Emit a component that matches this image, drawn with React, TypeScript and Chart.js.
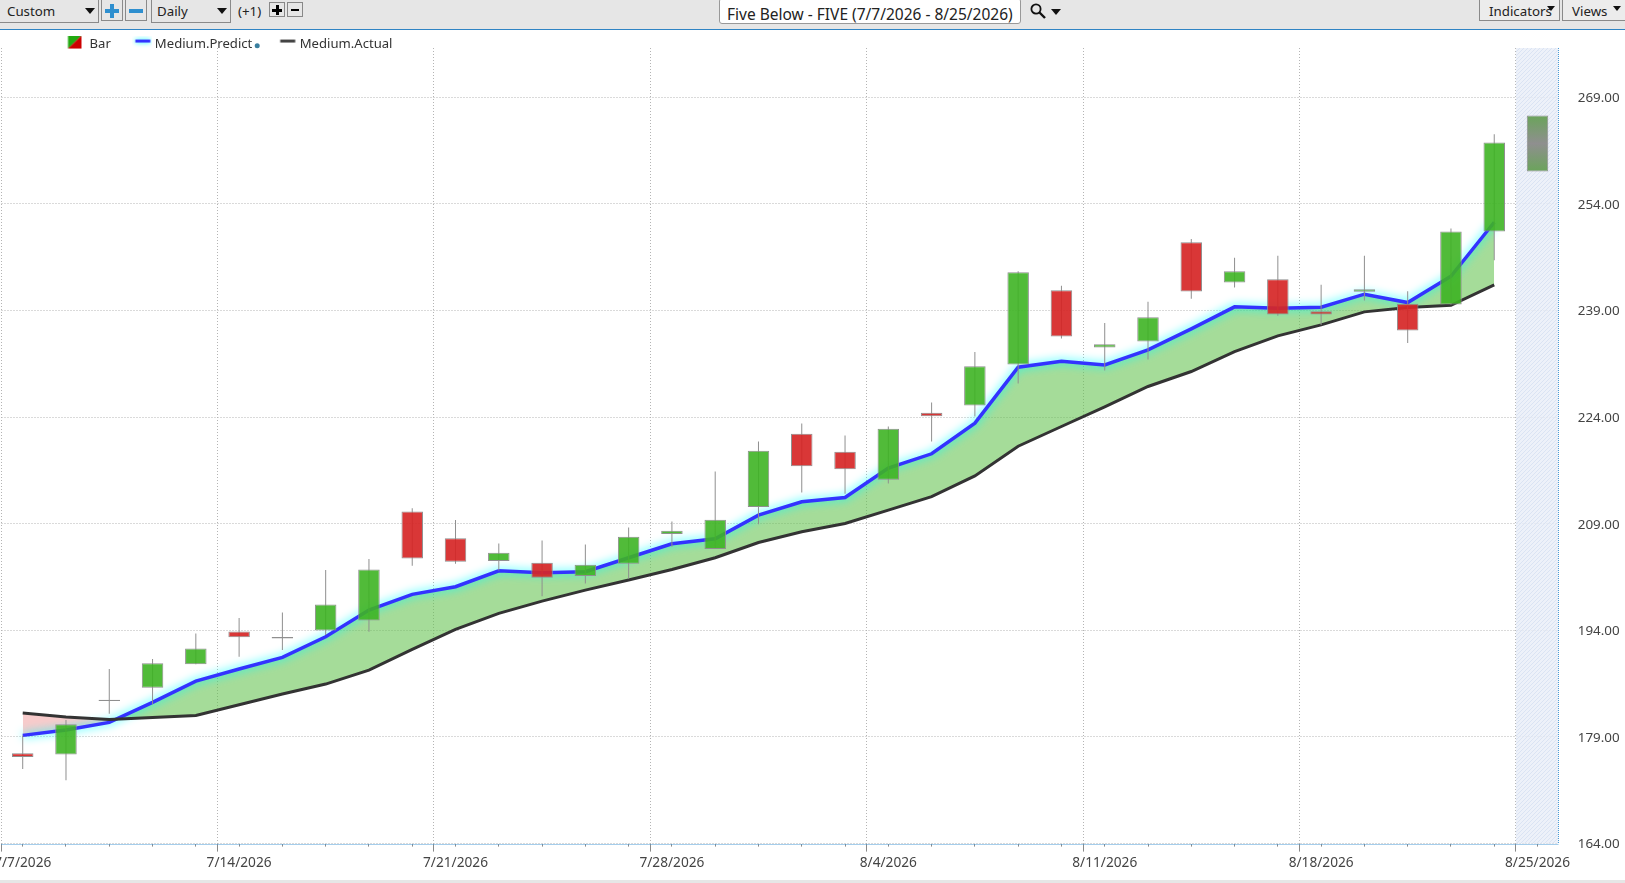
import React, { useEffect, useRef } from "react";
import { Chart, registerables } from "chart.js";

Chart.register(...registerables);

const dates = [
  "7/7/2026","7/8/2026","7/9/2026","7/10/2026","7/13/2026","7/14/2026","7/15/2026","7/16/2026","7/17/2026",
  "7/20/2026","7/21/2026","7/22/2026","7/23/2026","7/24/2026","7/27/2026","7/28/2026","7/29/2026","7/30/2026",
  "7/31/2026","8/3/2026","8/4/2026","8/5/2026","8/6/2026","8/7/2026","8/10/2026","8/11/2026","8/12/2026",
  "8/13/2026","8/14/2026","8/17/2026","8/18/2026","8/19/2026","8/20/2026","8/21/2026","8/24/2026","8/25/2026",
];
const opens = [176.7,176.55,184.25,185.93,189.22,193.86,193.07,194,195.41,210.74,206.95,203.75,203.51,201.64,203.37,207.55,205.44,211.35,221.66,219.13,215.19,224.62,225.64,231.41,241.87,233.8,234.65,248.62,242.95,243.42,238.92,241.64,239.98,239.84,250.12,258.56];
const closes = [176.2,180.8,184.05,189.36,191.47,193.02,192.87,197.66,202.58,204.13,203.66,204.92,201.4,203.23,207.17,208.02,209.56,219.27,217.11,216.69,222.37,224.15,231.18,244.4,235.35,234.27,238.07,241.68,244.54,238.45,238.45,242.01,236.19,250.12,262.64,266.44];
const highs = [179.2,181.4,188.56,189.97,193.58,195.74,196.53,202.49,204.04,211.17,209.53,206.23,206.65,206.09,208.48,209.33,216.36,220.59,223.12,221.43,222.7,226.07,233.19,244.54,242.48,237.27,240.23,249.09,246.42,246.7,242.62,246.7,241.72,250.54,263.81];
const lows = [174.5,172.9,182.27,183.63,189.22,190.3,191.23,193.34,193.81,203.1,203.38,202.43,198.82,200.6,201.26,205.76,205.44,208.95,213.41,213.22,214.68,220.59,224.09,228.74,235.07,230.57,232.11,240.65,242.25,238.26,236.99,240.42,234.45,239.84,246.08];
const predicted = [179.23,179.98,181.05,183.87,186.87,188.56,190.2,193.11,196.86,199.07,200.14,202.39,202.1,202.25,204.22,206.19,206.89,210.22,212.1,212.71,216.83,218.85,223.16,231.04,231.88,231.36,233.47,236.43,239.53,239.34,239.48,241.31,240.13,243.83,251.43];
const actual = [182.37,181.8,181.48,181.76,182.04,183.54,185.04,186.45,188.42,191.33,194.14,196.39,198.12,199.67,201.1,202.57,204.22,206.37,207.87,209.05,210.92,212.82,215.74,219.92,222.69,225.45,228.32,230.43,233.24,235.44,236.99,238.82,239.42,239.75,242.61];
const yTickValues = [164, 179, 194, 209, 224, 239, 254, 269];
const weekBoundaries = [-0.49, 4.5, 9.5, 14.5, 19.5, 24.5, 29.5, 34.5];
const legendNames = ["Bar", "Medium.Predict ", "Medium.Actual"];

const FONT = '"Noto Sans", "Open Sans", sans-serif';
const X_MIN = -0.49;
const X_MAX = 35.48;
const Y_MIN = 164;
const Y_MAX = 275.95;

function makeIcon(draw: (c: CanvasRenderingContext2D) => void) {
  const cv = document.createElement("canvas");
  cv.width = 20;
  cv.height = 18;
  draw(cv.getContext("2d") as CanvasRenderingContext2D);
  return cv;
}

const extras = {
  id: "extras",
  beforeLayout(chart: any) {
    const lg = chart.legend;
    if (lg && !lg.__wrapped) {
      const fit = lg.fit;
      lg.fit = function () {
        fit.call(this);
        this.height = 0;
      };
      lg.__wrapped = true;
    }
  },
  afterLayout(chart: any) {
    const lg = chart.legend;
    lg.left = 45.5;
    lg.right = 1200;
    lg.top = 13.5;
    lg.bottom = 70;
    lg.width = lg.right - lg.left;
    lg.height = lg.bottom - lg.top;
  },
  beforeDatasetsDraw(chart: any) {
    const { ctx, chartArea, scales } = chart;
    const left = scales.x.getPixelForValue(34.5);
    const p = document.createElement("canvas");
    p.width = 4;
    p.height = 4;
    const c = p.getContext("2d") as CanvasRenderingContext2D;
    c.fillStyle = "rgba(232,238,247,0.8)";
    c.fillRect(0, 0, 4, 4);
    c.strokeStyle = "rgba(214,224,241,0.8)";
    c.lineWidth = 1;
    c.beginPath();
    c.moveTo(0, 4);
    c.lineTo(4, 0);
    c.stroke();
    ctx.save();
    ctx.fillStyle = ctx.createPattern(p, "repeat");
    ctx.fillRect(left, chartArea.top, chartArea.right - left, chartArea.bottom - chartArea.top);
    ctx.restore();
  },
  beforeDatasetDraw(chart: any, args: any) {
    if (args.meta.label === "Medium.Predict") {
      chart.ctx.save();
      chart.ctx.shadowColor = "#00ffff";
      chart.ctx.shadowBlur = 10;
    }
  },
  afterDatasetDraw(chart: any, args: any) {
    if (args.meta.label === "Medium.Predict") chart.ctx.restore();
  },
  afterDraw(chart: any) {
    const { ctx, chartArea, legend } = chart;
    ctx.save();
    ctx.strokeStyle = "#4a9bd6";
    ctx.lineWidth = 1;
    ctx.setLineDash([1, 1]);
    ctx.beginPath();
    ctx.moveTo(chartArea.left, Math.round(chartArea.bottom) + 0.5);
    ctx.lineTo(chartArea.right, Math.round(chartArea.bottom) + 0.5);
    ctx.moveTo(Math.round(chartArea.right) + 0.5, chartArea.top);
    ctx.lineTo(Math.round(chartArea.right) + 0.5, chartArea.bottom);
    ctx.stroke();
    ctx.setLineDash([]);
    const hb = legend.legendHitBoxes[1];
    ctx.fillStyle = "#3a7f9f";
    ctx.beginPath();
    ctx.arc(hb.left + hb.width + 1.5, 45.7, 2.5, 0, Math.PI * 2);
    ctx.fill();
    ctx.restore();
  },
};

function Caret({ x, y, size = 5 }: { x: number; y: number; size?: number }) {
  return (
    <div
      style={{
        position: "absolute",
        left: x - size,
        top: y,
        width: 0,
        height: 0,
        borderLeft: `${size}px solid transparent`,
        borderRight: `${size}px solid transparent`,
        borderTop: `${size + 1}px solid #111`,
      }}
    />
  );
}

function Box({ x, w, h = 22, style, children }: any) {
  return (
    <div
      style={{
        position: "absolute",
        left: x,
        top: -1,
        width: w,
        height: h,
        boxSizing: "border-box",
        border: "1px solid #8a8a8a",
        ...style,
      }}
    >
      {children}
    </div>
  );
}

function Label({ x, y = 1, size = 13.3, children }: any) {
  return (
    <div style={{ position: "absolute", left: x, top: y, fontSize: size, lineHeight: "20px", color: "#222", whiteSpace: "nowrap" }}>
      {children}
    </div>
  );
}

function Sign({ x, y, w, h, plus, color, t }: any) {
  const base: any = { position: "absolute", background: color };
  return (
    <>
      <div style={{ ...base, left: x - w / 2, top: y - t / 2, width: w, height: t }} />
      {plus ? <div style={{ ...base, left: x - t / 2, top: y - h / 2, width: t, height: h }} /> : null}
    </>
  );
}

function Toolbar() {
  return (
    <div style={{ position: "absolute", left: 0, top: 0, width: 1625, height: 29, background: "#e6e6e6", borderBottom: "1px solid #2f84c4", fontFamily: FONT, zIndex: 2, overflow: "hidden" }}>
      <Box x={-2} w={101} h={24} />
      <Label x={7}>Custom</Label>
      <Caret x={90} y={8} />
      <Box x={101} w={22} />
      <Sign x={112} y={11} w={14} h={14} plus color="#2e8fcf" t={4} />
      <Box x={125} w={22} />
      <Sign x={136} y={11} w={14} h={14} color="#2e8fcf" t={4} />
      <Box x={151} w={80} h={24} />
      <Label x={157}>Daily</Label>
      <Caret x={222} y={8} />
      <Label x={238}>(+1)</Label>
      <div style={{ position: "absolute", left: 269, top: 2, width: 16, height: 15, boxSizing: "border-box", border: "1px solid #888" }} />
      <Sign x={277} y={10} w={10} h={10} plus color="#000" t={3} />
      <div style={{ position: "absolute", left: 287, top: 2, width: 16, height: 15, boxSizing: "border-box", border: "1px solid #888" }} />
      <Sign x={295} y={10} w={8} h={8} color="#000" t={2} />
      <div style={{ position: "absolute", left: 719, top: -2, width: 302, height: 26, boxSizing: "border-box", background: "#fff", border: "1px solid #999", borderRadius: 3 }} />
      <Label x={727} y={4} size={15.5}>Five Below - FIVE (7/7/2026 - 8/25/2026)</Label>
      <svg style={{ position: "absolute", left: 1029, top: 2, width: 18, height: 18 }} viewBox="0 0 18 18">
        <circle cx="7" cy="7" r="4.6" fill="none" stroke="#111" strokeWidth="1.8" />
        <line x1="10.5" y1="10.5" x2="16" y2="16" stroke="#111" strokeWidth="2.4" />
      </svg>
      <Caret x={1056} y={9} />
      <Box x={1479} w={81} h={22} style={{ background: "#ececec" }} />
      <Label x={1489}>Indicators</Label>
      <Caret x={1551} y={6} size={4} />
      <Box x={1562} w={65} h={22} style={{ background: "#ececec" }} />
      <Label x={1572}>Views</Label>
      <Caret x={1617} y={6} size={4} />
    </div>
  );
}

export default function App() {
  const ref = useRef<HTMLCanvasElement | null>(null);

  useEffect(() => {
    document.body.style.margin = "0";
    document.body.style.overflow = "hidden";
    const icons = [
      makeIcon((c) => {
        c.fillStyle = "#22aa11";
        c.beginPath();
        c.moveTo(1.5, 0);
        c.lineTo(15, 0);
        c.lineTo(1.5, 13);
        c.fill();
        c.fillStyle = "#cc0000";
        c.beginPath();
        c.moveTo(15, 0);
        c.lineTo(15, 13);
        c.lineTo(1.5, 13);
        c.fill();
      }),
      makeIcon((c) => {
        c.shadowColor = "#00ffff";
        c.shadowBlur = 5;
        c.fillStyle = "#3333ff";
        c.fillRect(3.5, 4, 15, 3);
      }),
      makeIcon((c) => {
        c.fillStyle = "#444";
        c.fillRect(3.5, 4, 15, 3);
      }),
    ];

    const bodyFill = (ctx: any) => {
      const i = ctx.dataIndex;
      if (i === 35) {
        const y = ctx.chart.scales.y;
        if (!y) return "#8f8f8f";
        const g = ctx.chart.ctx.createLinearGradient(0, y.getPixelForValue(closes[i]), 0, y.getPixelForValue(opens[i]));
        g.addColorStop(0, "#6aa45a");
        g.addColorStop(0.5, "#8f8f8f");
        g.addColorStop(1, "#6aa45a");
        return g;
      }
      return closes[i] >= opens[i] ? "rgba(62,180,36,0.9)" : "rgba(214,38,38,0.92)";
    };

    const chart = new Chart(ref.current as HTMLCanvasElement, {
      type: "bar",
      data: {
        datasets: [
          {
            type: "bar",
            label: "Wick",
            order: 2,
            data: highs.map((h, i) => ({ x: i, y: [lows[i], h] })),
            backgroundColor: "#8f8f8f",
            borderWidth: 0,
            barThickness: 1,
            grouped: false,
            inflateAmount: 0,
          },
          {
            type: "bar",
            label: "Bar",
            order: 1,
            data: opens.map((o, i) => ({ x: i, y: [o, closes[i]] })),
            backgroundColor: bodyFill,
            borderColor: "#8f8f8f",
            borderWidth: 1,
            borderSkipped: false,
            barThickness: 21.5,
            grouped: false,
            inflateAmount: 0,
          },
          {
            type: "line",
            label: "Medium.Predict",
            order: 4,
            data: predicted.map((v, i) => ({ x: i, y: v })),
            borderColor: "#3333ff",
            borderWidth: 3.5,
            pointRadius: 0,
            tension: 0,
            fill: { target: 3, above: "rgba(100,195,80,0.58)", below: "rgba(235,130,130,0.42)" },
          },
          {
            type: "line",
            label: "Medium.Actual",
            order: 3,
            data: actual.map((v, i) => ({ x: i, y: v })),
            borderColor: "#333333",
            borderWidth: 3,
            pointRadius: 0,
            tension: 0,
            fill: false,
          },
        ],
      } as any,
      options: {
        animation: false,
        responsive: false,
        layout: { autoPadding: false, padding: { left: 1.5, top: 48, right: 0, bottom: 0 } },
        plugins: {
          tooltip: { enabled: false },
          legend: {
            display: true,
            position: "top",
            align: "start",
            labels: {
              usePointStyle: true,
              pointStyleWidth: 13,
              padding: 24.5,
              color: "#333",
              font: { family: FONT, size: 13.1 },
              generateLabels: () =>
                legendNames.map((text, i) => ({ text, pointStyle: icons[i], lineWidth: 0, hidden: false, datasetIndex: i, fontColor: "#333" })),
            },
          },
        },
        scales: {
          x: {
            type: "linear",
            position: "bottom",
            offset: false,
            min: X_MIN,
            max: X_MAX,
            afterBuildTicks: (s: any) => {
              s.ticks = dates.map((_, i) => ({ value: i }));
            },
            afterFit: (s: any) => {
              s.height = 39.4;
              s.paddingLeft = 0;
              s.paddingRight = 0;
            },
            border: { display: false },
            grid: { offset: false, drawOnChartArea: false, tickLength: 3, tickColor: "#8a8a8a", color: "#8a8a8a" },
            ticks: {
              autoSkip: false,
              maxRotation: 0,
              padding: 8,
              color: "#444",
              font: { family: FONT, size: 13.7 },
              callback: (v: any) => (Number(v) % 5 === 0 ? dates[Number(v)] : ""),
            },
          },
          x2: {
            type: "linear",
            axis: "x",
            position: "bottom",
            weight: -1,
            offset: false,
            min: X_MIN,
            max: X_MAX,
            afterBuildTicks: (s: any) => {
              s.ticks = weekBoundaries.map((value) => ({ value }));
            },
            afterFit: (s: any) => {
              s.height = 0;
              s.paddingLeft = 0;
              s.paddingRight = 0;
            },
            border: { display: false, dash: [1, 2] },
            grid: { offset: false, tickLength: 8, tickColor: "#8a8a8a", color: "#b4b4b4", lineWidth: 1 },
            ticks: { display: false },
          },
          y: {
            type: "linear",
            position: "right",
            min: Y_MIN,
            max: Y_MAX,
            afterBuildTicks: (s: any) => {
              s.ticks = yTickValues.map((value) => ({ value }));
            },
            afterFit: (s: any) => {
              s.width = 66.7;
            },
            border: { display: false, dash: [1, 2] },
            grid: { color: "#b4b4b4", lineWidth: 1, drawTicks: false },
            ticks: {
              padding: 19.5,
              labelOffset: 1,
              color: "#444",
              font: { family: FONT, size: 13.4 },
              callback: (v: any) => Number(v).toFixed(2),
            },
          },
        },
      } as any,
      plugins: [extras],
    });
    return () => chart.destroy();
  }, []);

  return (
    <div style={{ position: "relative", width: 1625, height: 883, overflow: "hidden", background: "#fff" }}>
      <canvas ref={ref} width={1625} height={883} style={{ position: "absolute", left: 0, top: 0, display: "block", width: 1625, height: 883 }} />
      <Toolbar />
      <div style={{ position: "absolute", left: 0, top: 880, width: 1625, height: 3, background: "#e6e6e6" }} />
    </div>
  );
}
